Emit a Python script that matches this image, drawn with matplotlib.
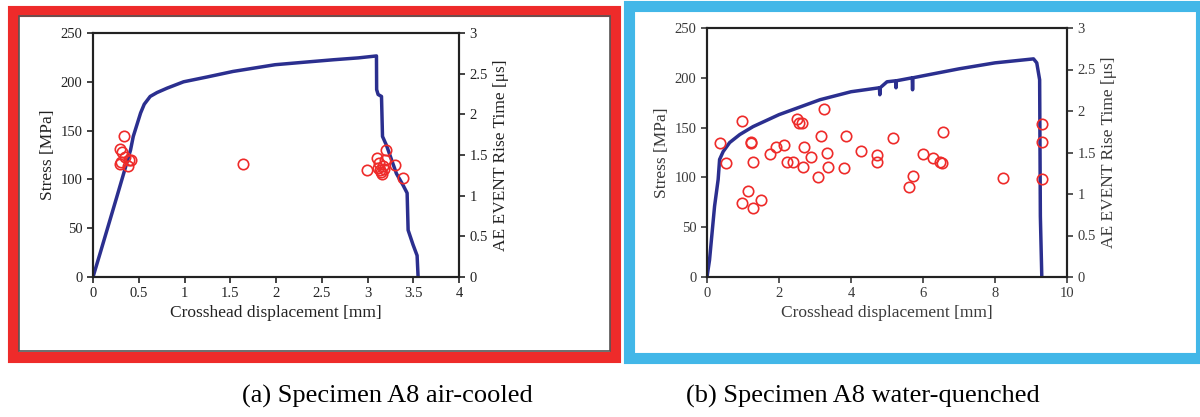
import matplotlib
matplotlib.use("Agg")
import matplotlib.pyplot as plt
from matplotlib.patches import Rectangle

plt.rcParams['font.family'] = ['Liberation Serif', 'DejaVu Serif']

# (a) air-cooled: stress-displacement curve
disp_a = [0, 0.08, 0.26, 0.41, 0.44, 0.52, 0.56, 0.625, 0.70, 0.81, 0.99, 1.25,
          1.53, 1.99, 2.30, 2.63, 2.90, 3.098, 3.100, 3.116, 3.153, 3.164, 3.207,
          3.316, 3.389, 3.433, 3.444, 3.498, 3.542, 3.553]
stress_a = [0, 25, 82, 130, 144, 168, 177, 185, 189, 193.5, 200, 205,
            210.6, 217.5, 220, 222.6, 224.5, 226.5, 192, 187, 185, 144, 135,
            106, 94, 86, 48, 33, 22, 0]

# (a) AE rise time events
ae_x_a = [0.335, 0.30, 0.32, 0.31, 0.30, 0.35, 0.39, 0.38, 0.41, 1.64,
          2.99, 3.10, 3.13, 3.12, 3.15, 3.17, 3.19, 3.20, 3.30, 3.39, 3.16, 3.14, 3.18]
ae_t_a = [1.73, 1.57, 1.54, 1.42, 1.39, 1.48, 1.44, 1.37, 1.44, 1.39,
          1.32, 1.46, 1.40, 1.34, 1.29, 1.36, 1.44, 1.56, 1.38, 1.22, 1.27, 1.31, 1.33]

# (b) water-quenched: stress-displacement curve
disp_b = [0, 0.07, 0.21, 0.31, 0.35, 0.45, 0.63, 0.91, 1.28, 2.0, 3.14, 4.0,
          4.79, 4.80, 4.81, 5.0, 5.24, 5.25, 5.26, 5.70, 5.71, 5.72, 6.0, 7.0, 8.0,
          9.07, 9.16, 9.24, 9.26, 9.30]
stress_b = [0, 17, 71, 98, 118, 126, 135, 143, 151, 163, 178, 186,
            190, 183, 190, 196, 197, 190, 197, 200, 188, 200, 202, 209, 215,
            219, 215, 198, 61, 0]

# (b) AE rise time events
ae_x_b = [0.37, 0.54, 0.96, 0.96, 1.14, 1.22, 1.23, 1.28, 1.28, 1.51, 1.74, 1.93,
          2.13, 2.21, 2.39, 2.49, 2.56, 2.63, 2.70, 2.67, 2.88, 3.09, 3.16, 3.26,
          3.32, 3.37, 3.80, 3.86, 4.28, 4.73, 4.73, 5.16, 5.60, 5.73, 6.01, 6.29,
          6.46, 6.52, 6.55, 8.22, 9.30, 9.30, 9.30]
ae_t_b = [1.62, 1.37, 1.88, 0.89, 1.04, 1.63, 1.61, 1.38, 0.83, 0.93, 1.48, 1.57,
          1.59, 1.39, 1.38, 1.90, 1.86, 1.86, 1.57, 1.33, 1.44, 1.20, 1.70, 2.02,
          1.49, 1.33, 1.31, 1.70, 1.52, 1.47, 1.39, 1.67, 1.08, 1.22, 1.48, 1.43,
          1.39, 1.37, 1.75, 1.19, 1.84, 1.63, 1.18]

W, H = 1200, 417
fig = plt.figure(figsize=(12, 4.17), dpi=100)


def frac(x0, y0, x1, y1):
    # pixel box (top-left origin) -> figure fraction [left, bottom, width, height]
    return [x0 / W, 1 - y1 / H, (x1 - x0) / W, (y1 - y0) / H]


def frame(x0, y0, x1, y1, color, lw):
    l, b, w, h = frac(x0, y0, x1, y1)
    fig.add_artist(Rectangle((l, b), w, h, transform=fig.transFigure, fill=False,
                             edgecolor=color, linewidth=lw, joinstyle='miter', zorder=0))


frame(12.5, 10.5, 615.5, 356.5, '#ee2b2a', 8)
frame(18.5, 16, 610, 351, '#555555', 1.2)
frame(628.5, 5.5, 1200.5, 357.5, '#42b7e8', 8)

navy = '#2b2f8f'


def panel(box, disp, stress, ae_x, ae_t, xmax, xstep, txt):
    ax = fig.add_axes(frac(*box))
    ax.plot(disp, stress, color=navy, lw=2.5, zorder=3)
    ax.set_xlim(0, xmax)
    ax.set_ylim(0, 250)
    n = int(round(xmax / xstep))
    ax.set_xticks([i * xstep for i in range(n + 1)])
    ax.set_xticklabels(['%g' % (i * xstep) for i in range(n + 1)])
    ax.set_yticks(range(0, 251, 50))
    ax.set_xlabel('Crosshead displacement [mm]', fontsize=12.5, color=txt, labelpad=3)
    ax.set_ylabel('Stress [MPa]', fontsize=12.5, color=txt, labelpad=3)
    ax.tick_params(direction='out', length=4, width=1.2, labelsize=10.5, colors=txt)
    for s in ax.spines.values():
        s.set_linewidth(1.5)
        s.set_color('#222222')

    ax2 = ax.twinx()
    ax2.plot(ae_x, ae_t, 'o', mfc='none', mec='#ee2b2a', ms=7.5, mew=1.2, zorder=4)
    ax2.set_ylim(0, 3)
    ax2.set_yticks([0, 0.5, 1, 1.5, 2, 2.5, 3])
    ax2.set_yticklabels(['0', '0.5', '1', '1.5', '2', '2.5', '3'])
    ax2.set_ylabel('AE EVENT Rise Time [\u03bcs]', fontsize=12.5, color=txt, labelpad=4)
    ax2.tick_params(direction='out', length=4, width=1.2, labelsize=10.5, colors=txt)
    for s in ax2.spines.values():
        s.set_linewidth(1.5)
        s.set_color('#222222')
    return ax, ax2


panel((93, 33, 459, 277), disp_a, stress_a, ae_x_a, ae_t_a, 4, 0.5, '#222222')
panel((707, 28, 1067, 277), disp_b, stress_b, ae_x_b, ae_t_b, 10, 2, '#3a3a3a')

fig.text(387 / W, 1 - 396 / H, '(a) Specimen A8 air-cooled', fontsize=19,
         ha='center', va='center', color='black')
fig.text(863 / W, 1 - 396 / H, '(b) Specimen A8 water-quenched', fontsize=19,
         ha='center', va='center', color='black')

fig.savefig('out.png', dpi=100)
